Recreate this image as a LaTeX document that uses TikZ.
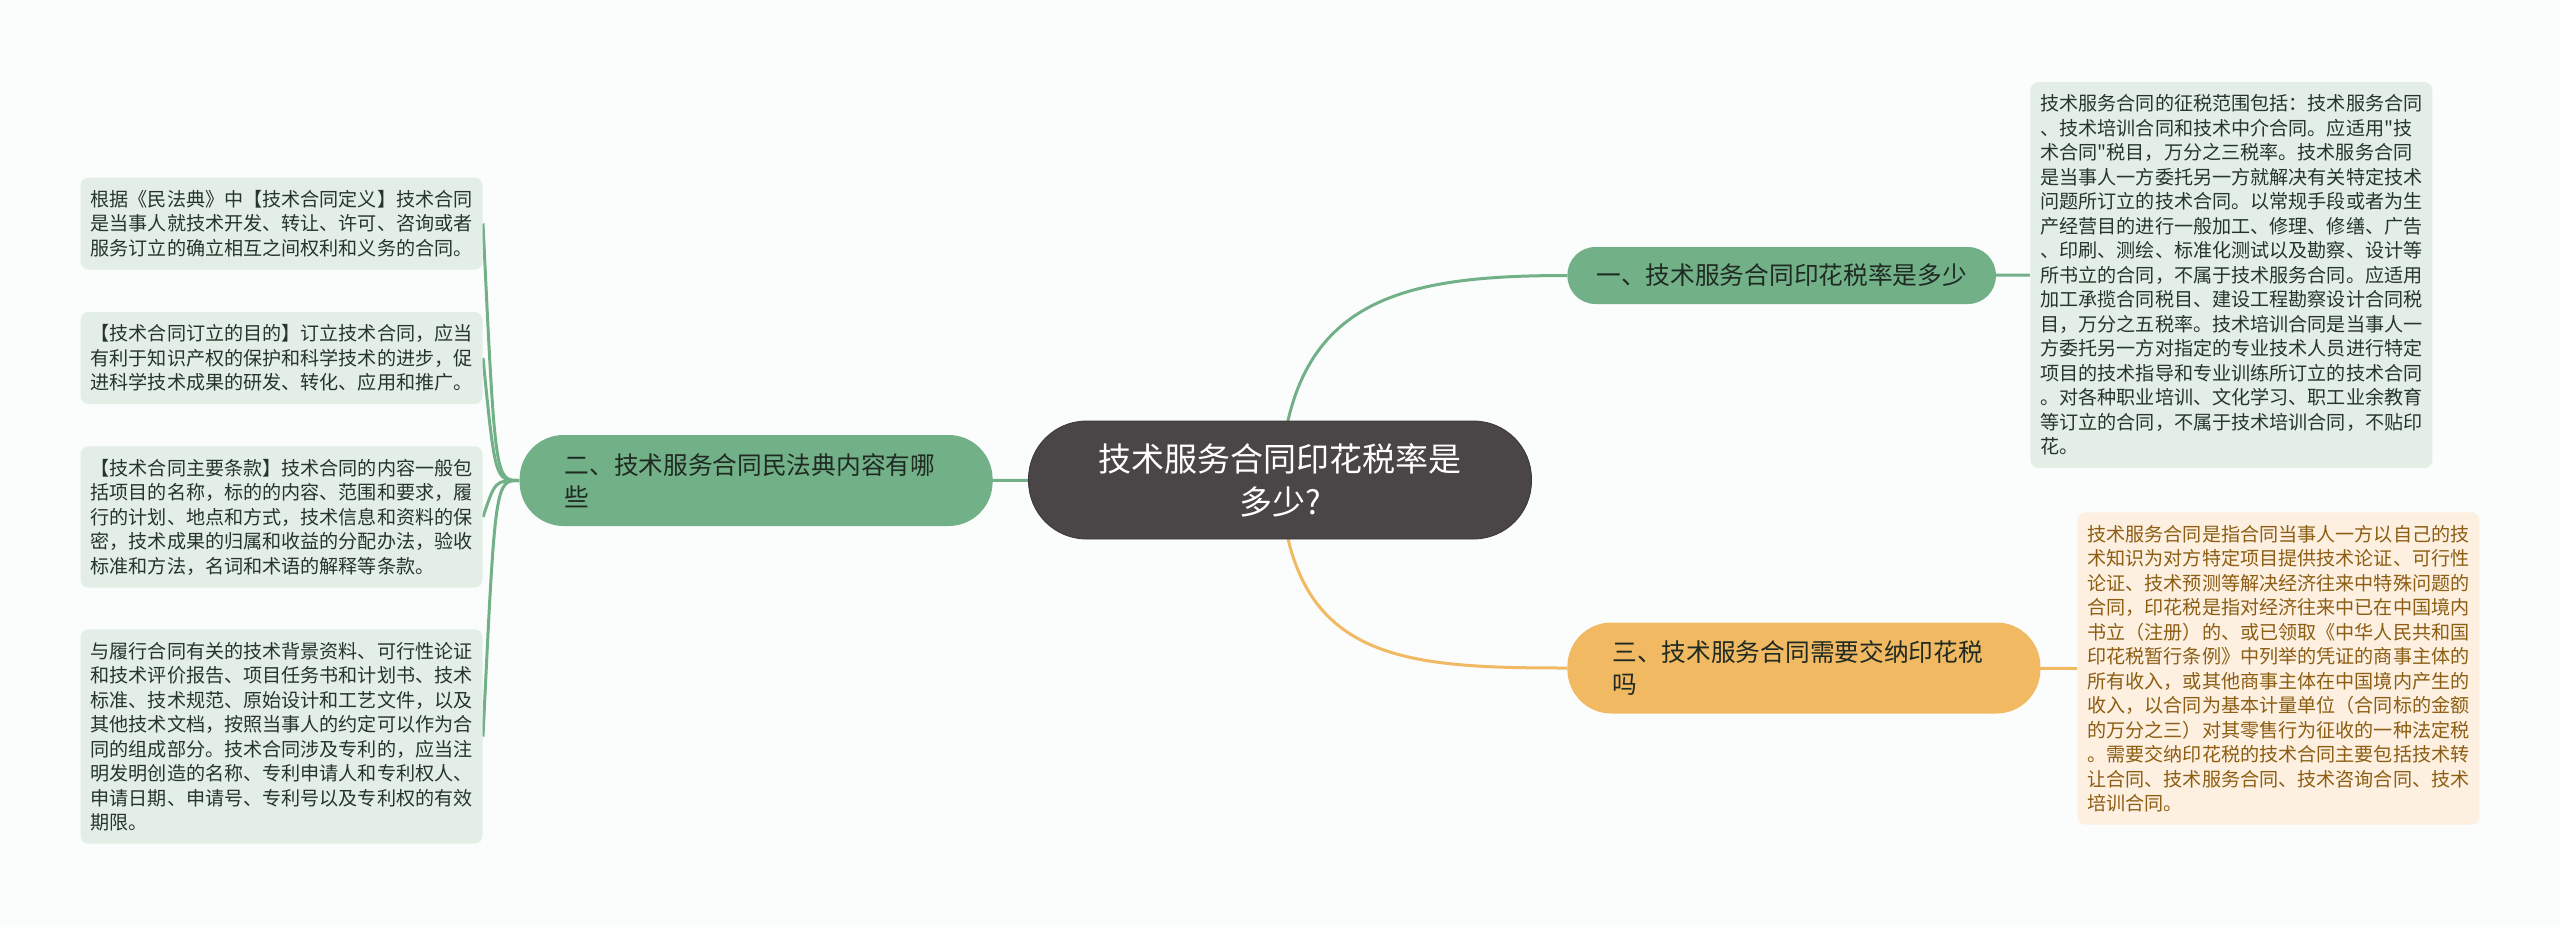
\documentclass[tikz,border=0pt]{standalone}
\usepackage{fontspec}
\newfontfamily\cjk{Noto Sans CJK SC}
\usepackage{tikz}
\usetikzlibrary{positioning,backgrounds}
\definecolor{bgpage}{HTML}{FBFDFD}
\definecolor{rootfill}{HTML}{4A4546}
\definecolor{sage}{HTML}{72B088}
\definecolor{sagelight}{HTML}{E3EEE6}
\definecolor{sageink}{HTML}{26352B}
\definecolor{honey}{HTML}{F0B962}
\definecolor{honeylight}{HTML}{FDF0E0}
\definecolor{honeyink}{HTML}{8C5D12}
\definecolor{topicink}{HTML}{1F2A22}

\begin{document}
\begin{tikzpicture}[x=0.5pt, y=-0.5pt,
  root/.style={fill=rootfill, draw=rootfill!80!black, text=white, rounded corners=29pt,
    minimum width=251.5pt, minimum height=59pt, inner sep=0pt, align=center,
    font=\cjk\fontsize{16.5pt}{21.5pt}\selectfont},
  topic/.style={fill=sage, text=topicink, rounded corners=14pt, align=left, inner ysep=0pt,
    font=\cjk\fontsize{12.35pt}{16pt}\selectfont},
  note/.style={fill=sagelight, text=sageink, rounded corners=4pt, align=left,
    text width=191pt, inner xsep=5pt, inner ysep=6.3pt,
    font=\cjk\fontsize{9.55pt}{12.25pt}\selectfont},
  link/.style={sage, line width=1.5pt}]

% root and main topics
\node[root] (rt) at (1280,480) {技术服务合同印花税率是\\多少?};
\node[topic, anchor=west, minimum height=28.5pt, inner xsep=14.5pt] (t1) at (1567,275.5)
  {一、技术服务合同印花税率是多少};
\node[topic, anchor=east, rounded corners=22pt, text width=191.5pt, inner xsep=22.5pt,
  minimum height=45.5pt] (t2) at (993,480.5) {二、技术服务合同民法典内容有哪\\些};
\node[topic, fill=honey, anchor=west, rounded corners=22pt, text width=191.5pt,
  inner xsep=22.5pt, minimum height=45.5pt] (t3) at (1567,668) {三、技术服务合同需要交纳印花税\\吗};

% detail notes
\node[note, anchor=west] (n1) at (2030,275) {技术服务合同的征税范围包括：技术服务合同\\、技术培训合同和技术中介合同。应适用"技\\术合同"税目，万分之三税率。技术服务合同\\是当事人一方委托另一方就解决有关特定技术\\问题所订立的技术合同。以常规手段或者为生\\产经营目的进行一般加工、修理、修缮、广告\\、印刷、测绘、标准化测试以及勘察、设计等\\所书立的合同，不属于技术服务合同。应适用\\加工承揽合同税目、建设工程勘察设计合同税\\目，万分之五税率。技术培训合同是当事人一\\方委托另一方对指定的专业技术人员进行特定\\项目的技术指导和专业训练所订立的技术合同\\。对各种职业培训、文化学习、职工业余教育\\等订立的合同，不属于技术培训合同，不贴印\\花。};
\node[note, fill=honeylight, text=honeyink, anchor=west] (n3) at (2077,668.5) {技术服务合同是指合同当事人一方以自己的技\\术知识为对方特定项目提供技术论证、可行性\\论证、技术预测等解决经济往来中特殊问题的\\合同，印花税是指对经济往来中已在中国境内\\书立（注册）的、或已领取《中华人民共和国\\印花税暂行条例》中列举的凭证的商事主体的\\所有收入，或其他商事主体在中国境内产生的\\收入，以合同为基本计量单位（合同标的金额\\的万分之三）对其零售行为征收的一种法定税\\。需要交纳印花税的技术合同主要包括技术转\\让合同、技术服务合同、技术咨询合同、技术\\培训合同。};
\node[note, anchor=east] (d1) at (483,223.5) {根据《民法典》中【技术合同定义】技术合同\\是当事人就技术开发、转让、许可、咨询或者\\服务订立的确立相互之间权利和义务的合同。};
\node[note, anchor=east] (d2) at (483,358) {【技术合同订立的目的】订立技术合同，应当\\有利于知识产权的保护和科学技术的进步，促\\进科学技术成果的研发、转化、应用和推广。};
\node[note, anchor=east] (d3) at (483,517) {【技术合同主要条款】技术合同的内容一般包\\括项目的名称，标的的内容、范围和要求，履\\行的计划、地点和方式，技术信息和资料的保\\密，技术成果的归属和收益的分配办法，验收\\标准和方法，名词和术语的解释等条款。};
\node[note, anchor=east] (d4) at (483,736.5) {与履行合同有关的技术背景资料、可行性论证\\和技术评价报告、项目任务书和计划书、技术\\标准、技术规范、原始设计和工艺文件，以及\\其他技术文档，按照当事人的约定可以作为合\\同的组成部分。技术合同涉及专利的，应当注\\明发明创造的名称、专利申请人和专利权人、\\申请日期、申请号、专利号以及专利权的有效\\期限。};

\coordinate[left=12pt of t2.west] (knot);

% page and connectors
\begin{scope}[on background layer]
\fill[bgpage] (0,0) rectangle (2560,927);
\draw[link] (rt.center) .. controls +(10,-180) and +(-170,0) .. (t1.west);
\draw[link, honey] (rt.center) .. controls +(10,180) and +(-170,0) .. (t3.west);
\draw[link] (rt.center) -- (t2.center);
\draw[link] (t1.center) -- (n1.west);
\draw[link, honey] (t3.center) -- (n3.west);
\foreach \d in {d1,d2,d3,d4}
  \draw[link] (t2.west) .. controls (knot) .. (\d.east);
\end{scope}
\end{tikzpicture}
\end{document}
